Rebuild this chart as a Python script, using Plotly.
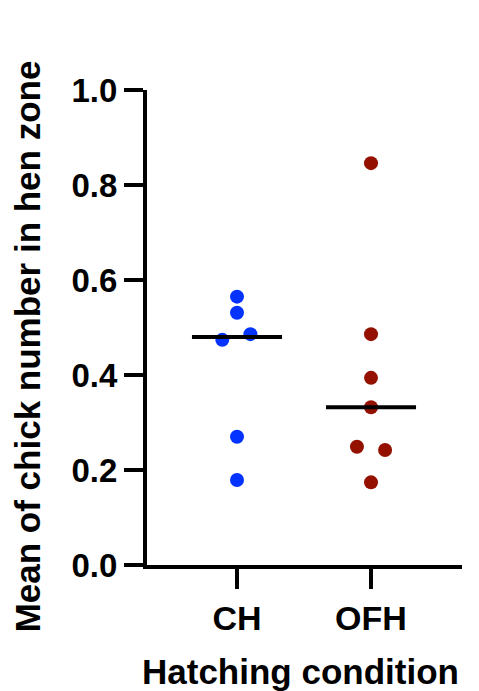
import numpy as np
import plotly.graph_objects as go

categories = ["CH", "OFH"]
ch_values = [0.565, 0.531, 0.474, 0.486, 0.270, 0.179]
ch_jitter = [0.0, 0.0, -0.11, 0.10, 0.0, 0.0]
ofh_values = [0.846, 0.486, 0.394, 0.332, 0.249, 0.242, 0.174]
ofh_jitter = [0.0, 0.0, 0.0, 0.0, -0.105, 0.105, 0.0]
colors = ["#0433FF", "#941100"]
y_ticks = [0.0, 0.2, 0.4, 0.6, 0.8, 1.0]
y_title = "Mean of chick number in hen zone"
x_title = "Hatching condition"

FONT = "Liberation Sans, Arial, sans-serif"

fig = go.Figure()
series = [(ch_values, ch_jitter), (ofh_values, ofh_jitter)]
for i, (vals, jit) in enumerate(series):
    fig.add_trace(go.Scatter(
        x=[i + j for j in jit], y=vals, mode="markers",
        marker=dict(size=14, color=colors[i], line=dict(width=0)),
        showlegend=False, hoverinfo="y"))
for i, (vals, jit) in enumerate(series):
    med = float(np.median(vals))
    fig.add_trace(go.Scatter(
        x=[i - 0.336, i + 0.336], y=[med, med], mode="lines",
        line=dict(color="black", width=4), showlegend=False, hoverinfo="skip"))

fig.update_layout(
    width=479, height=691,
    margin=dict(l=139, r=25, t=82, b=134),
    paper_bgcolor="white", plot_bgcolor="white",
    font=dict(family=FONT, color="black"),
    xaxis=dict(range=[-0.6716, 1.679], tickvals=[0, 1], ticktext=categories,
               showline=True, linecolor="black", linewidth=4,
               ticks="outside", ticklen=20, tickwidth=4, tickcolor="black",
               showgrid=False, zeroline=False,
               tickfont=dict(size=34, family=FONT, weight="bold")),
    yaxis=dict(range=[0, 1.0], tickvals=y_ticks, ticktext=[f"{v:.1f}" for v in y_ticks],
               showline=True, linecolor="black", linewidth=4,
               ticks="outside", ticklen=19, tickwidth=4, tickcolor="black",
               showgrid=False, zeroline=False,
               tickfont=dict(size=33, family=FONT, weight="bold")),
    annotations=[
        dict(text=y_title, xref="paper", yref="paper", x=-0.38, y=0.461,
             xanchor="center", yanchor="middle", textangle=-90, showarrow=False,
             font=dict(size=35, family=FONT, weight="bold", color="black")),
        dict(text=x_title, xref="paper", yref="paper", x=0.486, y=-0.2232,
             xanchor="center", yanchor="middle", showarrow=False,
             font=dict(size=35, family=FONT, weight="bold", color="black")),
    ],
)

fig.write_html("out.html")
